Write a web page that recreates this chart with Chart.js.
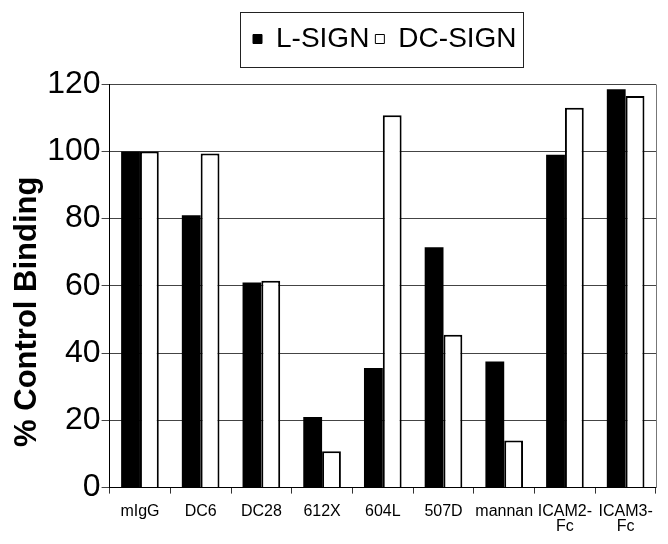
<!DOCTYPE html>
<html><head><meta charset="utf-8">
<script src="https://cdn.jsdelivr.net/npm/chart.js@4.4.1/dist/chart.umd.min.js"></script>
<style>html,body{margin:0;padding:0;background:#fff;} #wrap{width:668px;height:544px;}</style>
</head><body>
<div id="wrap"><canvas id="c" width="668" height="544"></canvas></div>
<script>
const categories = ['mIgG', 'DC6', 'DC28', '612X', '604L', '507D', 'mannan', ['ICAM2-', 'Fc'], ['ICAM3-', 'Fc']];
const seriesNames = ['L-SIGN', 'DC-SIGN'];
const lSignValues = [100, 81, 61, 21, 35.6, 71.5, 37.5, 99, 118.5];
const dcSignValues = [100, 99.4, 61.5, 10.8, 110.8, 45.5, 14, 113, 116.5];
const yTickValues = [0, 20, 40, 60, 80, 100, 120];
const yTitle = '% Control Binding';

const FONT = "'Liberation Sans', Arial, Helvetica, sans-serif";

const deco = {
  id: 'deco',
  afterLayout(chart) {
    const lg = chart.legend, ca = chart.chartArea;
    const dx = (ca.left + ca.right) / 2 - (lg.left + lg.right) / 2 + 2;
    lg.left += dx; lg.right += dx;
  },
  afterDraw(chart) {
    const ctx = chart.ctx, ca = chart.chartArea, lg = chart.legend;
    ctx.save();
    ctx.strokeStyle = '#777'; ctx.lineWidth = 1;
    const r = Math.round(ca.right) + 0.5, t = Math.round(ca.top) + 0.5, b = Math.round(ca.bottom);
    ctx.beginPath(); ctx.moveTo(r, t); ctx.lineTo(r, b); ctx.stroke();
    const hb = lg.legendHitBoxes;
    if (hb && hb.length) {
      const last = hb[hb.length - 1];
      const x0 = hb[0].left - 13, x1 = last.left + last.width + 6;
      const yc = hb[0].top + hb[0].height / 2;
      ctx.strokeStyle = '#222';
      ctx.strokeRect(Math.round(x0) + 0.5, Math.round(yc - 27) + 0.5, Math.round(x1 - x0), 55);
    }
    ctx.restore();
  }
};

new Chart(document.getElementById('c'), {
  type: 'bar',
  data: {
    labels: categories,
    datasets: [
      { label: seriesNames[0], data: lSignValues, backgroundColor: '#000', borderColor: '#000', borderWidth: 0 },
      { label: seriesNames[1], data: dcSignValues, backgroundColor: '#fff', borderColor: '#000', borderWidth: 2 }
    ]
  },
  options: {
    responsive: false,
    animation: false,
    devicePixelRatio: 1,
    layout: { padding: { left: 6, right: 12, top: 19, bottom: 0 } },
    datasets: { bar: { categoryPercentage: 0.62, barPercentage: 1.0 } },
    plugins: {
      tooltip: { enabled: false },
      legend: {
        position: 'top',
        labels: {
          color: '#000',
          font: { family: FONT, size: 28 },
          boxWidth: 9, boxHeight: 9, padding: 6,
          generateLabels: (chart) => Chart.defaults.plugins.legend.labels.generateLabels(chart).map(l => Object.assign(l, { lineWidth: 1, strokeStyle: '#000' }))
        }
      },
      subtitle: { display: true, text: '', weight: 500, font: { size: 1 }, padding: 10 }
    },
    scales: {
      x: {
        grid: { display: true, drawOnChartArea: false, drawTicks: true, tickLength: 6, color: '#333', offset: true },
        border: { display: true, color: '#000', width: 1 },
        ticks: { color: '#000', font: { family: FONT, size: 16, lineHeight: 0.95 }, padding: 10, maxRotation: 0, autoSkip: false }
      },
      y: {
        min: yTickValues[0],
        max: yTickValues[yTickValues.length - 1],
        grid: { color: '#444', lineWidth: 1, tickLength: 8, drawTicks: true },
        border: { display: true, color: '#000', width: 1 },
        ticks: { stepSize: yTickValues[1] - yTickValues[0], color: '#000', font: { family: FONT, size: 32 }, padding: 1, autoSkip: false },
        title: { display: true, text: yTitle + '      ', color: '#000', font: { family: FONT, size: 31, weight: 'bold' }, padding: { top: 3, bottom: 0 } }
      }
    }
  },
  plugins: [deco]
});
</script>
</body></html>
